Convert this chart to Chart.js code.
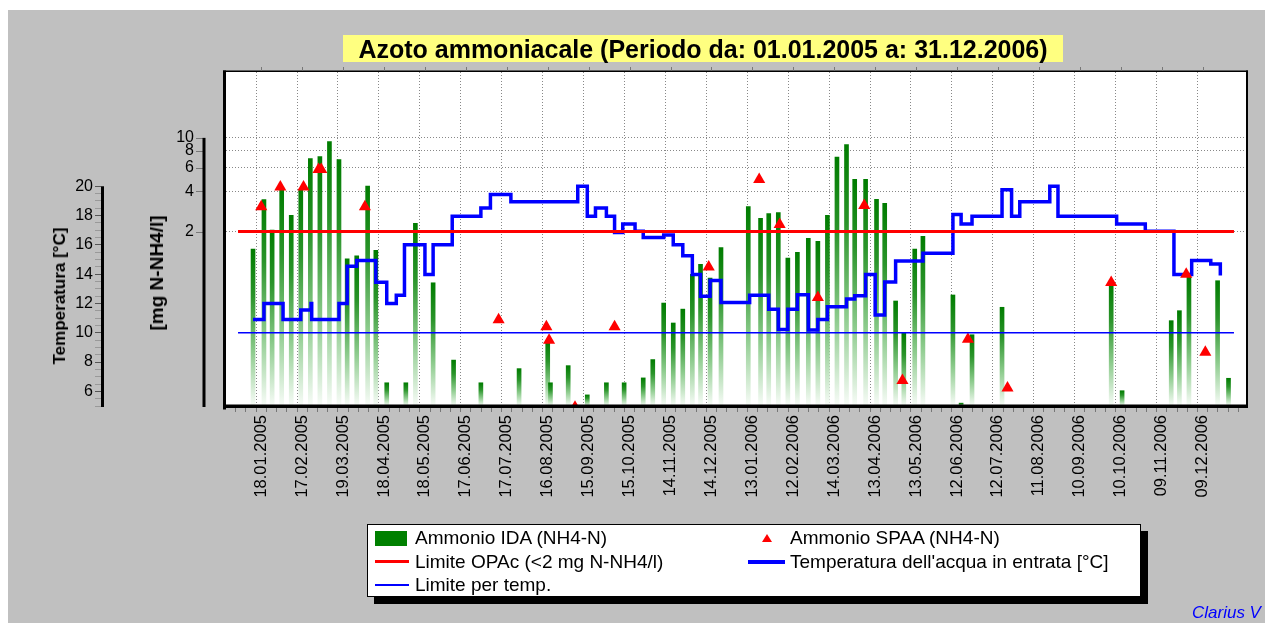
<!DOCTYPE html>
<html>
<head>
<meta charset="utf-8">
<title>Azoto ammoniacale</title>
<script src="https://cdn.jsdelivr.net/npm/chart.js@4.4.1/dist/chart.umd.min.js"></script>
<style>
  body { margin: 0; width: 1265px; height: 623px; overflow: hidden; background: #fff; position: relative;
         font-family: "Liberation Sans", Arial, sans-serif; }
  #panel { position: absolute; left: 8px; top: 10px; right: 0; bottom: 0; background: #c0c0c0; }
  #chartWrap { position: absolute; left: 0; top: 0; width: 1265px; height: 623px; }
  #title { position: absolute; left: 343px; top: 35px; width: 720px; height: 27px; background: #ffff80;
           font-weight: bold; font-size: 25px; line-height: 28px; text-align: center; white-space: nowrap; }
  .axisTitle { position: absolute; font-weight: bold; white-space: nowrap; transform: translate(-50%, -50%) rotate(-90deg); }
  #legendBox { position: absolute; left: 367px; top: 524px; width: 772px; height: 71px; background: #fff;
               border: 1px solid #000; box-shadow: 7px 7px 0 #000; }
  .lg { position: absolute; font-size: 19px; line-height: 22px; white-space: nowrap; }
  .sw { position: absolute; }
  #clarius { position: absolute; left: 1192px; top: 603px; font-size: 17px; font-style: italic; color: #0000ff; white-space: nowrap; }
</style>
</head>
<body>
<div id="panel"></div>
<div id="chartWrap"><canvas id="chart" width="1265" height="623"></canvas></div>
<div id="title">Azoto ammoniacale (Periodo da: 01.01.2005 a: 31.12.2006)</div>
<div class="axisTitle" style="left:60px;top:296px;font-size:17px;">Temperatura [°C]</div>
<div class="axisTitle" style="left:157px;top:273px;font-size:19px;">[mg N-NH4/l]</div>

<div id="legendBox"></div>
<div class="sw" style="left:375px;top:531px;width:32px;height:15px;background:#008000;"></div>
<div class="lg" style="left:415px;top:527px;">Ammonio IDA (NH4-N)</div>
<div class="sw" style="left:762px;top:534px;width:0;height:0;border-left:5px solid transparent;border-right:5px solid transparent;border-bottom:8px solid #ff0000;"></div>
<div class="lg" style="left:790px;top:527px;">Ammonio SPAA (NH4-N)</div>
<div class="sw" style="left:375px;top:560px;width:34px;height:3px;background:#ff0000;"></div>
<div class="lg" style="left:415px;top:551px;">Limite OPAc (&lt;2 mg N-NH4/l)</div>
<div class="sw" style="left:748px;top:560px;width:37px;height:4px;background:#0000ff;"></div>
<div class="lg" style="left:790px;top:551px;">Temperatura dell'acqua in entrata [°C]</div>
<div class="sw" style="left:375px;top:584px;width:34px;height:2px;background:#0000ff;"></div>
<div class="lg" style="left:415px;top:574px;">Limite per temp.</div>
<div id="clarius">Clarius V</div>

<script>
// etichette asse x (ogni 30 giorni)
const xLabels = ["18.01.2005", "17.02.2005", "19.03.2005", "18.04.2005", "18.05.2005", "17.06.2005",
  "17.07.2005", "16.08.2005", "15.09.2005", "15.10.2005", "14.11.2005", "14.12.2005",
  "13.01.2006", "12.02.2006", "14.03.2006", "13.04.2006", "13.05.2006", "12.06.2006",
  "12.07.2006", "11.08.2006", "10.09.2006", "10.10.2006", "09.11.2006", "09.12.2006"];
const nh4Ticks = [2, 4, 6, 8, 10];
const tempTicks = [6, 8, 10, 12, 14, 16, 18, 20];

// giorni dal 01.01.2005
const idaDays = [11, 19, 25, 32, 39, 46, 53, 60, 67, 74, 80, 87, 95, 101, 109, 123, 130, 143, 158, 178,
  206, 227, 229, 242, 256, 270, 283, 297, 304, 312, 319, 326, 333, 339, 346, 354,
  374, 383, 389, 396, 403, 410, 418, 425, 432, 439, 446, 452, 460, 468, 474, 482, 488, 496, 502,
  524, 530, 538, 560, 640, 648, 684, 690, 697, 718, 726];
// mg N-NH4/l
const idaValues = [1.48, 3.47, 2.05, 4.25, 2.64, 4.13, 7.0, 7.26, 9.4, 6.9, 1.25, 1.32, 4.37, 1.45, 0.149, 0.149, 2.3, 0.83, 0.22, 0.149,
  0.19, 0.30, 0.149, 0.2, 0.121, 0.149, 0.149, 0.162, 0.222, 0.586, 0.416, 0.528, 0.96, 1.14, 0.9, 1.52,
  3.07, 2.51, 2.73, 2.77, 1.27, 1.4, 1.78, 1.69, 2.64, 7.2, 8.9, 4.9, 4.9, 3.48, 3.25, 0.607, 0.35, 1.48, 1.84,
  0.673, 0.105, 0.34, 0.545, 0.835, 0.13, 0.433, 0.514, 0.91, 0.86, 0.161];

const spaaDays = [17, 31, 48, 59, 61, 93, 191, 226, 228, 247, 276, 345, 382, 397, 425, 459, 487, 535, 564, 640, 695, 709];
const spaaValues = [3.06, 4.31, 4.31, 5.8, 5.8, 3.06, 0.44, 0.39, 0.31, 0.098, 0.39, 1.09, 4.89, 2.26, 0.644, 3.13, 0.155, 0.315, 0.136, 0.834, 0.96, 0.252];

const tempDays = [11, 19, 33, 46, 53.5, 54, 74, 80, 87, 101, 109, 116, 122, 137, 143, 157, 178, 185, 200,
  249, 256, 262, 270, 276, 282, 291, 297, 312, 319, 326, 333, 339, 346, 354,
  375, 389, 396, 403, 410, 418, 425, 432, 446, 452, 460, 467, 474, 482, 502, 524, 530, 538,
  560, 567, 573, 595, 601, 644, 665, 686, 699, 713, 720];
const tempValues = [10.9, 12.0, 10.9, 11.55, 12.0, 10.9, 12.0, 14.54, 14.93, 13.44, 12.0, 12.56, 16.0, 13.97, 16.0, 17.95, 18.52, 19.43, 18.95,
  20.0, 17.95, 18.52, 17.95, 16.84, 17.43, 16.93, 16.5, 16.68, 16.0, 15.25, 13.97, 12.49, 13.56, 12.06,
  12.56, 11.6, 10.23, 11.6, 12.6, 10.19, 10.9, 11.78, 12.3, 12.53, 13.97, 11.22, 13.47, 14.9, 15.42, 18.07, 17.43, 17.95,
  19.77, 17.95, 18.95, 20.0, 17.95, 17.43, 16.93, 13.97, 14.93, 14.7, 13.9];

const limitOPAc = 2;
const limitTemp = 10;
const periodDays = [0, 730];

function dayOf(label) {
  const p = label.split(".");
  return (Date.UTC(+p[2], +p[1] - 1, +p[0]) - Date.UTC(2005, 0, 1)) / 86400000;
}
function pts(days, vals) {
  return days.map((d, i) => ({ x: d, y: vals[i] }));
}
const xTickDays = xLabels.map(dayOf);

Chart.defaults.font.family = '"Liberation Sans", Arial, sans-serif';
Chart.defaults.color = "#000";

const framePlugin = {
  id: "frame",
  beforeDraw(chart) {
    const a = chart.chartArea;
    const ctx = chart.ctx;
    ctx.save();
    ctx.fillStyle = "#fff";
    ctx.fillRect(a.left, a.top, a.right - a.left, a.bottom - a.top);
    ctx.restore();
  },
  afterDatasetsDraw(chart) {
    const a = chart.chartArea;
    const ctx = chart.ctx;
    const x = chart.scales.x, yN = chart.scales.yN, yT = chart.scales.yT;
    ctx.save();
    ctx.fillStyle = "#000";
    // cornice
    ctx.fillRect(a.left - 3, a.top - 1.5, 3, a.bottom - a.top + 5);
    ctx.fillRect(a.left - 3, a.bottom - 1.5, a.right - a.left + 5, 3.5);
    ctx.fillRect(a.left - 3, a.top - 1.5, a.right - a.left + 5, 1.5);
    ctx.fillRect(a.right, a.top - 1.5, 2, a.bottom - a.top + 3);

    ctx.strokeStyle = "#777";
    ctx.lineWidth = 1;
    xTickDays.forEach((d) => {
      const px = Math.round(x.getPixelForValue(d)) + 0.5;
      ctx.beginPath();
      ctx.moveTo(px, a.top - 1.5);
      ctx.lineTo(px, a.top - 5);
      ctx.stroke();
    });

    // asse mg N-NH4/l
    const xN = a.left - 22;
    nh4Ticks.forEach((v) => {
      const py = Math.round(yN.getPixelForValue(v)) + 0.5;
      ctx.beginPath();
      ctx.moveTo(xN - 8, py);
      ctx.lineTo(xN, py);
      ctx.stroke();
    });
    const topN = yN.getPixelForValue(nh4Ticks[nh4Ticks.length - 1]);
    ctx.fillRect(xN - 1.5, topN, 3, a.bottom + 1 - topN);

    // asse temperatura
    const xT = yT.right + 1.5;
    const topT = yT.getPixelForValue(tempTicks[tempTicks.length - 1]);
    ctx.fillRect(xT - 1.5, topT, 3, a.bottom + 1 - topT);
    ctx.restore();
  },
};

function barGradient(c) {
  const chart = c.chart;
  const area = chart.chartArea;
  if (!area || c.type !== "data") return "#008000";
  const top = chart.scales.yN.getPixelForValue(c.raw.y);
  const g = chart.ctx.createLinearGradient(0, top, 0, area.bottom);
  g.addColorStop(0, "#007c00");
  g.addColorStop(0.3, "#2a942a");
  g.addColorStop(0.65, "#8ccb8c");
  g.addColorStop(1, "#f8fcf8");
  return g;
}

new Chart(document.getElementById("chart"), {
  type: "bar",
  data: {
    datasets: [
      {
        type: "bar",
        label: "Ammonio IDA (NH4-N)",
        data: pts(idaDays, idaValues),
        yAxisID: "yN",
        backgroundColor: barGradient,
        barThickness: 4,
        order: 5,
      },
      {
        type: "line",
        label: "Ammonio SPAA (NH4-N)",
        data: pts(spaaDays, spaaValues),
        yAxisID: "yN",
        showLine: false,
        pointStyle: "triangle",
        pointRadius: 7,
        pointBackgroundColor: "#ff0000",
        pointBorderColor: "#ff0000",
        pointBorderWidth: 0,
        clip: 0,
        order: 2,
      },
      {
        type: "line",
        label: "Limite OPAc (<2 mg N-NH4/l)",
        data: pts(periodDays, [limitOPAc, limitOPAc]),
        yAxisID: "yN",
        borderColor: "#ff0000",
        borderWidth: 3,
        pointRadius: 0,
        order: 3,
      },
      {
        type: "line",
        label: "Temperatura dell'acqua in entrata [°C]",
        data: pts(tempDays, tempValues),
        yAxisID: "yT",
        stepped: "before",
        borderColor: "#0000ff",
        borderWidth: 3.5,
        pointRadius: 0,
        order: 4,
      },
      {
        type: "line",
        label: "Limite per temp.",
        data: pts(periodDays, [limitTemp, limitTemp]),
        yAxisID: "yT",
        borderColor: "#0000ff",
        borderWidth: 1.5,
        pointRadius: 0,
        order: 1,
      },
    ],
  },
  options: {
    responsive: false,
    animation: false,
    events: [],
    layout: { padding: { left: 40, top: 72, right: 19, bottom: 107 } },
    plugins: { legend: { display: false }, tooltip: { enabled: false } },
    scales: {
      x: {
        type: "linear",
        min: -5,
        max: 735,
        afterBuildTicks: (s) => {
          const t = [];
          xTickDays.forEach((d, i) => {
            if (i === 0) t.push({ value: d - 15 }, { value: d - 7.5 });
            t.push({ value: d }, { value: d + 7.5 }, { value: d + 15 }, { value: d + 22.5 });
          });
          s.ticks = t.filter((k) => k.value >= s.min && k.value <= s.max);
        },
        afterFit: (s) => { s.height = 110; },
        ticks: {
          autoSkip: false,
          minRotation: 90,
          maxRotation: 90,
          padding: 3,
          font: { size: 16.5 },
          callback: (v) => {
            const i = xTickDays.indexOf(v);
            return i >= 0 ? xLabels[i] : "";
          },
        },
        grid: {
          color: (c) => (c.tick && xTickDays.indexOf(c.tick.value) >= 0 ? "#888" : "rgba(0,0,0,0)"),
          tickColor: "#777",
          tickLength: 6,
        },
        border: { display: false, dash: [1, 2] },
      },
      yN: {
        type: "logarithmic",
        position: "left",
        weight: 0,
        min: 0.1,
        max: 31,
        afterBuildTicks: (s) => { s.ticks = nh4Ticks.map((v) => ({ value: v })); },
        afterFit: (s) => { s.width = 125; },
        ticks: {
          autoSkip: false,
          padding: 32,
          font: { size: 16 },
          callback: (v) => String(v),
        },
        grid: { color: "#888", drawTicks: false },
        border: { display: false, dash: [1, 2] },
      },
      yT: {
        type: "linear",
        position: "left",
        weight: 1,
        min: 5,
        max: 27.8,
        afterBuildTicks: (s) => {
          const t = [];
          for (let v = 5; v <= tempTicks[tempTicks.length - 1]; v += 0.5) t.push({ value: v });
          s.ticks = t;
        },
        afterFit: (s) => { s.width = 61; },
        ticks: {
          autoSkip: false,
          padding: 2,
          font: { size: 16 },
          callback: (v) => (tempTicks.indexOf(v) >= 0 ? String(v) : ""),
        },
        grid: {
          drawOnChartArea: false,
          tickLength: 6,
          tickColor: (c) => (c.tick && tempTicks.indexOf(c.tick.value) >= 0 ? "#555" : "#999"),
        },
        border: { display: false },
      },
    },
  },
  plugins: [framePlugin],
});
</script>
</body>
</html>
